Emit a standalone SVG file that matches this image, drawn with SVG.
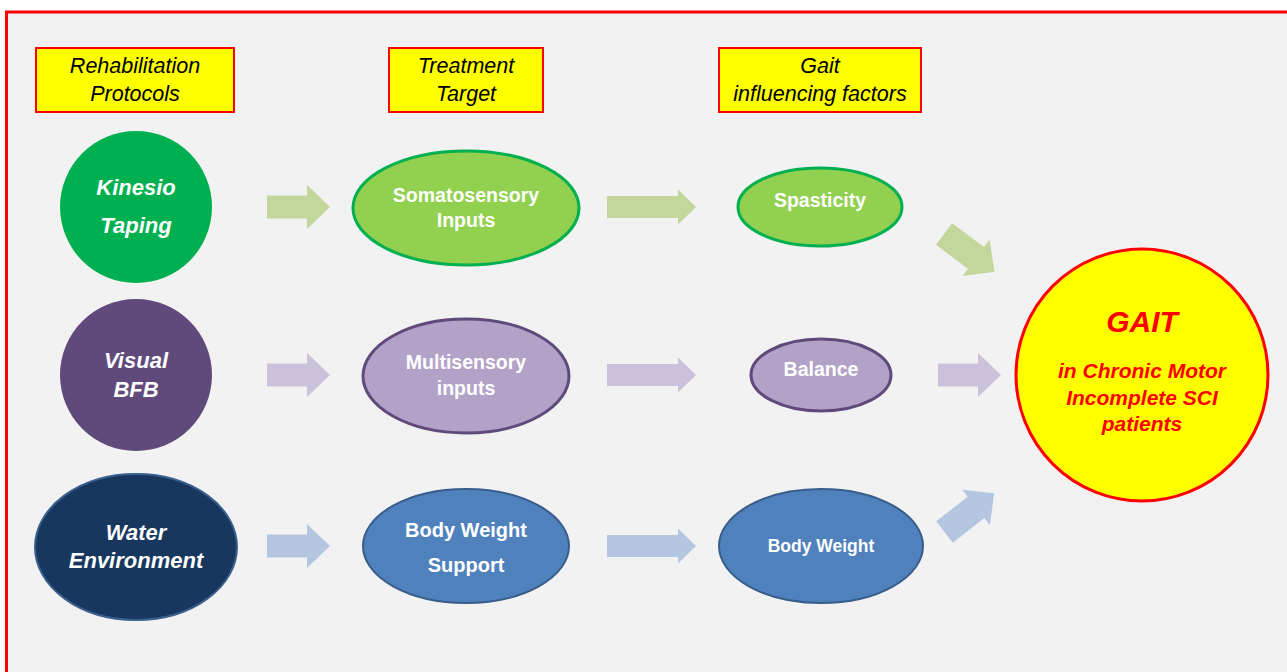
<svg xmlns="http://www.w3.org/2000/svg" width="1287" height="672" viewBox="0 0 1287 672">
<style>
.hdr rect{fill:#FFFF00;stroke:#FF0000;stroke-width:2}
.hdr text{font-family:"Liberation Sans",Arial,sans-serif;font-style:italic;font-size:21.5px;fill:#000;text-anchor:middle}
.wt{font-family:"Liberation Sans",Arial,sans-serif;font-weight:bold;fill:#fff;text-anchor:middle}
.it{font-style:italic}
.gait{font-family:"Liberation Sans",Arial,sans-serif;font-weight:bold;font-style:italic;fill:#FF0000;text-anchor:middle}
</style>
<defs>
<path id="arrA" d="M0,-11.5 H40 V-22 L63,0 L40,22 V11.5 H0 Z"/>
<path id="arrB" d="M0,-11 H71 V-17.5 L89,0 L71,17.5 V11 H0 Z"/>
<path id="arrD" d="M0,-13.5 H40 V-22.5 L63,0 L40,22.5 V13.5 H0 Z"/>
</defs>
<rect x="0" y="0" width="1287" height="672" fill="#FFFFFF"/>
<rect x="6.5" y="12" width="1300" height="700" fill="#F2F2F2" stroke="#FF0000" stroke-width="3"/>

<g id="hdr-rehab" class="hdr"><rect x="36" y="48" width="198" height="64"/><text x="135" y="73">Rehabilitation</text><text x="135" y="101">Protocols</text></g>
<g id="hdr-target" class="hdr"><rect x="389" y="48" width="154" height="64"/><text x="466" y="73">Treatment</text><text x="466" y="101">Target</text></g>
<g id="hdr-gait" class="hdr"><rect x="719" y="48" width="202" height="64"/><text x="820" y="73">Gait</text><text x="820" y="101">influencing factors</text></g>

<g id="connectors">
<g fill="#C3D69B">
<use href="#arrA" transform="translate(267,207)"/>
<use href="#arrB" transform="translate(607,207)"/>
<use href="#arrD" transform="translate(944,234) rotate(36.7)"/>
</g>
<g fill="#CCC1DA">
<use href="#arrA" transform="translate(267,375)"/>
<use href="#arrB" transform="translate(607,375)"/>
<use href="#arrA" transform="translate(938,375)"/>
</g>
<g fill="#B4C6E0">
<use href="#arrA" transform="translate(267,546)"/>
<use href="#arrB" transform="translate(607,546)"/>
<use href="#arrD" transform="translate(944.5,532) rotate(-38)"/>
</g>
</g>

<g id="kinesio"><circle cx="136" cy="207" r="76" fill="#00B050"/><text class="wt it" font-size="22" x="136" y="195">Kinesio</text><text class="wt it" font-size="22" x="136" y="233">Taping</text></g>
<g id="visual"><circle cx="136" cy="375" r="76" fill="#604A7B"/><text class="wt it" font-size="22" x="136" y="368">Visual</text><text class="wt it" font-size="22" x="136" y="397">BFB</text></g>
<g id="water"><ellipse cx="136" cy="547" rx="101" ry="73" fill="#17375E" stroke="#3A5F8E" stroke-width="2"/><text class="wt it" font-size="22" x="136" y="540">Water</text><text class="wt it" font-size="22" x="136" y="568">Environment</text></g>

<g id="somato"><ellipse cx="466" cy="208" rx="113" ry="57" fill="#92D050" stroke="#00B050" stroke-width="3"/><text class="wt" font-size="19.5" x="466" y="202">Somatosensory</text><text class="wt" font-size="19.5" x="466" y="227">Inputs</text></g>
<g id="multi"><ellipse cx="466" cy="376" rx="103" ry="57" fill="#B3A2C7" stroke="#604A7B" stroke-width="3"/><text class="wt" font-size="19.5" x="466" y="369">Multisensory</text><text class="wt" font-size="19.5" x="466" y="395">inputs</text></g>
<g id="bws"><ellipse cx="466" cy="546" rx="103" ry="57" fill="#4F81BD" stroke="#385D8A" stroke-width="2"/><text class="wt" font-size="20" x="466" y="537">Body Weight</text><text class="wt" font-size="20" x="466" y="572">Support</text></g>

<g id="spasticity"><ellipse cx="820" cy="207" rx="82" ry="39" fill="#92D050" stroke="#00B050" stroke-width="3"/><text class="wt" font-size="19.5" x="820" y="207">Spasticity</text></g>
<g id="balance"><ellipse cx="821" cy="375" rx="70" ry="36" fill="#B3A2C7" stroke="#604A7B" stroke-width="3"/><text class="wt" font-size="19.5" x="821" y="376">Balance</text></g>
<g id="bodyweight"><ellipse cx="821" cy="546" rx="102" ry="57" fill="#4F81BD" stroke="#385D8A" stroke-width="2"/><text class="wt" font-size="17.5" x="821" y="552">Body Weight</text></g>

<g id="gait"><circle cx="1142" cy="375" r="126" fill="#FFFF00" stroke="#FF0000" stroke-width="3"/>
<text class="gait" font-size="30" x="1142" y="332">GAIT</text>
<text class="gait" font-size="21" x="1142" y="378">in Chronic Motor</text>
<text class="gait" font-size="21" x="1142" y="405">Incomplete SCI</text>
<text class="gait" font-size="21" x="1142" y="431">patients</text></g>
</svg>
